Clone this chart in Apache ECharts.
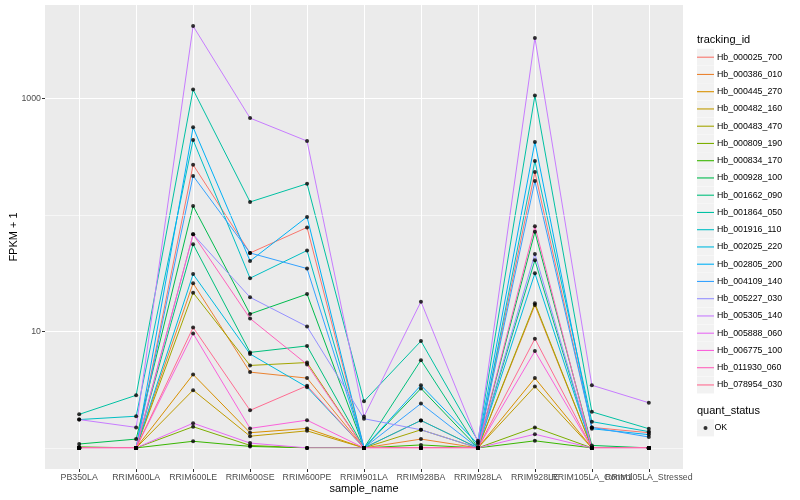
<!DOCTYPE html>
<html>
<head>
<meta charset="utf-8">
<script src="https://cdn.jsdelivr.net/npm/echarts@6.0.0/dist/echarts.min.js"></script>
<style>html,body{margin:0;padding:0;background:#fff}#c{width:800px;height:500px}</style>
</head>
<body>
<div id="c"></div>
<script>
const categories = ['PB350LA','RRIM600LA','RRIM600LE','RRIM600SE','RRIM600PE','RRIM901LA','RRIM928BA','RRIM928LA','RRIM928LE','RRIM105LA_Control','RRIM105LA_Stressed'];
const trackingIds = ['Hb_000025_700','Hb_000386_010','Hb_000445_270','Hb_000482_160','Hb_000483_470','Hb_000809_190','Hb_000834_170','Hb_000928_100','Hb_001662_090','Hb_001864_050','Hb_001916_110','Hb_002025_220','Hb_002805_200','Hb_004109_140','Hb_005227_030','Hb_005305_140','Hb_005888_060','Hb_006775_100','Hb_011930_060','Hb_078954_030'];
const colors = ['#F8766D','#EA8331','#D89000','#C09B00','#A3A500','#7CAE00','#39B600','#00BB4E','#00BF7D','#00C1A3','#00BFC4','#00BAE0','#00B0F6','#35A2FF','#9590FF','#C77CFF','#E76BF3','#FA62DB','#FF62BC','#FF6C91'];

// FPKM + 1 per sample (order of categories)
const Hb_000025_700 = [1.0, 1.0, 269, 47.1, 78, 1.0, 1.72, 1.0, 233, 1.50, 1.35];
const Hb_000386_010 = [1.0, 1.0, 25.9, 4.47, 3.97, 1.0, 1.19, 1.0, 16.8, 1.0, 1.0];
const Hb_000445_270 = [1.0, 1.0, 4.27, 1.35, 1.47, 1.0, 1.0, 1.0, 3.97, 1.0, 1.0];
const Hb_000482_160 = [1.0, 1.0, 3.13, 1.26, 1.40, 1.0, 1.0, 1.0, 3.37, 1.0, 1.0];
const Hb_000483_470 = [1.0, 1.0, 21.5, 5.1, 5.4, 1.0, 1.43, 1.0, 17.4, 1.0, 1.0];
const Hb_000809_190 = [1.0, 1.0, 1.52, 1.05, 1.0, 1.0, 1.0, 1.0, 1.50, 1.0, 1.0];
const Hb_000834_170 = [1.02, 1.0, 1.14, 1.03, 1.0, 1.0, 1.06, 1.0, 1.15, 1.0, 1.0];
const Hb_000928_100 = [1.08, 1.19, 119, 14.1, 20.9, 1.0, 3.24, 1.0, 71.5, 1.05, 1.0];
const Hb_001662_090 = [1.0, 1.0, 56, 6.6, 7.5, 1.0, 5.66, 1.0, 40.8, 1.0, 1.0];
const Hb_001864_050 = [1.94, 2.83, 1188, 129, 185, 2.51, 8.26, 1.15, 1055, 2.04, 1.46];
const Hb_001916_110 = [1.75, 1.87, 439, 28.6, 49.4, 1.0, 1.72, 1.0, 290, 1.68, 1.38];
const Hb_002025_220 = [1.0, 1.0, 31, 6.4, 3.32, 1.0, 1.0, 1.0, 31.5, 1.0, 1.0];
const Hb_002805_200 = [1.0, 1.0, 564, 40.2, 96, 1.0, 3.45, 1.08, 422, 1.46, 1.30];
const Hb_004109_140 = [1.0, 1.0, 216, 47.1, 34.6, 1.0, 2.40, 1.0, 195, 1.50, 1.24];
const Hb_005227_030 = [1.0, 1.0, 68, 19.6, 11.0, 1.78, 1.43, 1.0, 46.2, 1.0, 1.0];
const Hb_005305_140 = [1.75, 1.50, 4170, 677, 430, 1.86, 18, 1.12, 3300, 3.45, 2.44];
const Hb_005888_060 = [1.0, 1.0, 1.63, 1.1, 1.0, 1.0, 1.0, 1.0, 1.31, 1.0, 1.0];
const Hb_006775_100 = [1.0, 1.0, 9.6, 1.47, 1.73, 1.0, 1.0, 1.0, 6.77, 1.0, 1.0];
const Hb_011930_060 = [1.0, 1.0, 68, 12.9, 5.2, 1.0, 1.0, 1.0, 80, 1.0, 1.0];
const Hb_078954_030 = [1.0, 1.0, 10.8, 2.1, 3.41, 1.0, 1.0, 1.0, 8.65, 1.0, 1.0];

const seriesValues = [Hb_000025_700,Hb_000386_010,Hb_000445_270,Hb_000482_160,Hb_000483_470,Hb_000809_190,Hb_000834_170,Hb_000928_100,Hb_001662_090,Hb_001864_050,Hb_001916_110,Hb_002025_220,Hb_002805_200,Hb_004109_140,Hb_005227_030,Hb_005305_140,Hb_005888_060,Hb_006775_100,Hb_011930_060,Hb_078954_030];

const yMajorBreaks = [10, 1000];
const yMinorBreaks = [1, 100];
const xPositions = categories.map((c, i) => i + 1);
// labels split over two label rows of the same axis scale so overlapping texts are both kept
const xLabelsA = xPositions.filter(p => p % 2 === 1);
const xLabelsB = xPositions.filter(p => p % 2 === 0);

const FONT = 'Liberation Sans, Arial, Helvetica, sans-serif';

const lineSeries = trackingIds.map((id, k) => ({
  name: id,
  type: 'line',
  symbol: 'none',
  z: 2,
  color: colors[k],
  lineStyle: { color: colors[k], width: 1 },
  data: seriesValues[k].map((v, i) => [xPositions[i], v])
}));

const pointData = [];
seriesValues.forEach(arr => arr.forEach((v, i) => pointData.push([xPositions[i], v])));

const keyRects = trackingIds.map((id, i) => ({
  type: 'rect', z: -1,
  shape: { x: 697, y: 48.7 + 17.25 * i, width: 17, height: 17 },
  style: { fill: '#F2F2F2' }
}));
keyRects.push({ type: 'rect', z: -1, shape: { x: 697, y: 419.4, width: 17, height: 17 }, style: { fill: '#F2F2F2' } });

const labelStyle = { formatter: v => categories[Math.round(v) - 1] || '', fontSize: 8.8, color: '#4D4D4D', margin: 4, fontFamily: FONT, hideOverlap: false, showMinLabel: true, showMaxLabel: true };

const chart = echarts.init(document.getElementById('c'), null, { renderer: 'canvas' });
chart.setOption({
  animation: false,
  backgroundColor: '#fff',
  textStyle: { fontFamily: FONT },
  title: [
    { text: 'tracking_id', left: 697, top: 33, padding: 0, textStyle: { fontSize: 11, fontWeight: 'normal', color: '#000', fontFamily: FONT, lineHeight: 13 } },
    { text: 'quant_status', left: 697, top: 404, padding: 0, textStyle: { fontSize: 11, fontWeight: 'normal', color: '#000', fontFamily: FONT, lineHeight: 13 } }
  ],
  graphic: keyRects,
  legend: [
    {
      data: trackingIds.map(n => ({ name: n, icon: 'rect' })),
      orient: 'vertical',
      left: 697, top: 48.7, padding: 0,
      itemWidth: 17, itemHeight: 1.1, itemGap: 0.25,
      selectedMode: false,
      textStyle: { fontSize: 8.8, color: '#000', fontFamily: FONT, lineHeight: 17, padding: [0, 0, 0, -2] }
    },
    {
      data: [{ name: 'OK', icon: 'circle' }],
      orient: 'vertical',
      left: 703.5, top: 419.4, padding: 0,
      itemWidth: 4, itemHeight: 4,
      selectedMode: false,
      textStyle: { fontSize: 8.8, color: '#000', fontFamily: FONT, lineHeight: 17, padding: [0, 0, 0, 2] }
    }
  ],
  grid: { left: 45, right: 117, top: 5, bottom: 31, show: true, backgroundColor: '#EBEBEB', borderWidth: 0, containLabel: false, outerBoundsMode: 'none' },
  xAxis: [
    {
      type: 'value', min: 0.4, max: 11.6, position: 'bottom',
      name: 'sample_name', nameLocation: 'middle', nameGap: 14, nameMoveOverlap: false,
      nameTextStyle: { fontSize: 11, color: '#000', fontFamily: FONT },
      axisLine: { show: false },
      axisTick: { show: true, customValues: xPositions, length: 3, lineStyle: { color: '#333333', width: 1 } },
      axisLabel: Object.assign({ customValues: xLabelsA }, labelStyle),
      splitLine: { show: true, lineStyle: { color: '#FFFFFF', width: 1.07 } }
    },
    {
      type: 'value', min: 0.4, max: 11.6, position: 'bottom', offset: 0,
      axisLine: { show: false },
      axisTick: { show: false, customValues: xLabelsB },
      axisLabel: Object.assign({ customValues: xLabelsB }, labelStyle),
      splitLine: { show: false }
    }
  ],
  yAxis: {
    type: 'log', logBase: 10, min: 0.659, max: 6324,
    name: 'FPKM + 1', nameLocation: 'middle', nameGap: 26, nameMoveOverlap: false,
    nameTextStyle: { fontSize: 11, color: '#000', fontFamily: FONT },
    axisLine: { show: false },
    axisTick: { show: true, customValues: yMajorBreaks, length: 3, lineStyle: { color: '#333333', width: 1 } },
    axisLabel: { customValues: yMajorBreaks, formatter: v => String(Math.round(v)), fontSize: 8.8, color: '#4D4D4D', margin: 4, fontFamily: FONT },
    splitLine: { show: true, lineStyle: { color: '#FFFFFF', width: 1.07 } }
  },
  series: [
    {
      name: 'minor', type: 'line', data: [], z: 1, silent: true,
      markLine: {
        silent: true, symbol: ['none', 'none'], label: { show: false },
        lineStyle: { color: '#FFFFFF', width: 0.55, type: 'solid' },
        data: yMinorBreaks.map(v => ({ yAxis: v }))
      }
    },
    ...lineSeries,
    {
      name: 'OK', type: 'scatter', z: 5, symbol: 'circle', symbolSize: 4,
      itemStyle: { color: '#000000' },
      data: pointData
    }
  ]
});
</script>
</body>
</html>
